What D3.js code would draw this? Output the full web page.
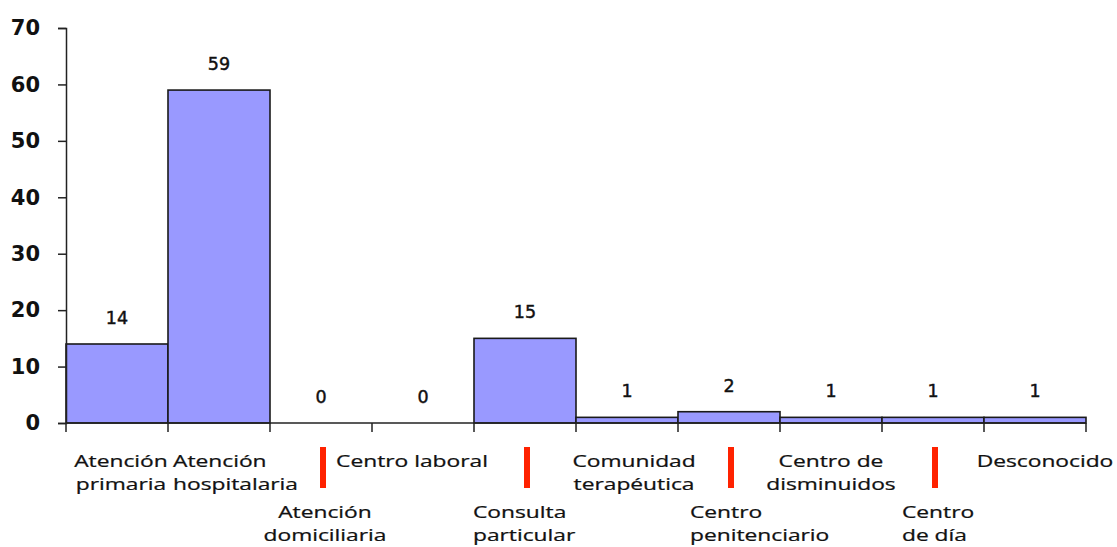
<!DOCTYPE html>
<html>
<head>
<meta charset="utf-8">
<script src="https://cdn.jsdelivr.net/npm/d3@7"></script>
<style>
  html, body { margin: 0; padding: 0; background: #fff; }
  svg { display: block; }
</style>
</head>
<body>
<svg id="chart" width="1117" height="547"></svg>
<script>
// ---- data ----
const categories = [
  "Atención\nprimaria",
  "Atención\nhospitalaria",
  "Atención\ndomiciliaria",
  "Centro laboral",
  "Consulta\nparticular",
  "Comunidad\nterapéutica",
  "Centro\npenitenciario",
  "Centro de\ndisminuidos",
  "Centro\nde día",
  "Desconocido"
];
const values = [14, 59, 0, 0, 15, 1, 2, 1, 1, 1];
const yTicks = [0, 10, 20, 30, 40, 50, 60, 70];

// ---- layout (style, not data) ----
const plotLeft = 66, plotRight = 1086, plotTop = 28, plotBottom = 423;
// label placement per category: row (0 upper, 1 lower), anchor, offset from band centre
const labelLayout = [
  {row: 0, anchor: "middle", dx: 4},
  {row: 0, anchor: "start",  dx: -46},
  {row: 1, anchor: "middle", dx: 4},
  {row: 0, anchor: "middle", dx: -11},
  {row: 1, anchor: "start",  dx: -52},
  {row: 0, anchor: "middle", dx: 7},
  {row: 1, anchor: "start",  dx: -39},
  {row: 0, anchor: "middle", dx: 0},
  {row: 1, anchor: "start",  dx: -31},
  {row: 0, anchor: "middle", dx: 10}
];
const labelStretch = 1.34;

const svg = d3.select("#chart");

const x = d3.scaleBand().domain(categories).range([plotLeft, plotRight]).padding(0);
const y = d3.scaleLinear().domain([0, 70]).range([plotBottom, plotTop]);

// bars
svg.append("g").selectAll("rect")
  .data(values)
  .join("rect")
  .attr("x", (d, i) => x(categories[i]))
  .attr("y", d => y(d))
  .attr("width", x.bandwidth())
  .attr("height", d => y(0) - y(d))
  .attr("fill", "#9999ff")
  .attr("stroke", "#1a1a1a")
  .attr("stroke-width", 1.6);

// y axis
const yAxis = svg.append("g")
  .attr("transform", `translate(${plotLeft},0)`)
  .call(d3.axisLeft(y).tickValues(yTicks).tickSize(8).tickPadding(18).tickFormat(d3.format("d")));
yAxis.select(".domain").attr("stroke", "#222").attr("stroke-width", 1.5);
yAxis.selectAll(".tick line").attr("stroke", "#222").attr("stroke-width", 1.5);
yAxis.selectAll(".tick text")
  .attr("font-family", "DejaVu Sans, Verdana, sans-serif")
  .attr("font-weight", "bold")
  .attr("font-size", 21)
  .attr("fill", "#111");

// x axis line and boundary ticks
const xAxis = svg.append("g");
xAxis.append("line")
  .attr("x1", plotLeft).attr("x2", plotRight)
  .attr("y1", y(0)).attr("y2", y(0))
  .attr("stroke", "#222").attr("stroke-width", 1.5);
const boundaries = categories.map(c => x(c)).concat([x(categories[categories.length - 1]) + x.bandwidth()]);
xAxis.selectAll("line.tk")
  .data(boundaries)
  .join("line")
  .attr("class", "tk")
  .attr("x1", d => d).attr("x2", d => d)
  .attr("y1", y(0)).attr("y2", y(0) + 9)
  .attr("stroke", "#222").attr("stroke-width", 1.5);

// value labels
svg.append("g").selectAll("text")
  .data(values)
  .join("text")
  .attr("x", (d, i) => x(categories[i]) + x.bandwidth() / 2)
  .attr("y", d => y(d) - 20)
  .attr("text-anchor", "middle")
  .attr("font-family", "DejaVu Sans, Verdana, sans-serif")
  .attr("font-size", 17.5)
  .attr("fill", "#111")
  .attr("stroke", "#111")
  .attr("stroke-width", 0.45)
  .text(d => d);

// category labels
const rowBase = [467, 518];
const lineGap = 23;
const lab = svg.append("g").selectAll("text")
  .data(categories)
  .join("text")
  .attr("transform", (c, i) => {
    const L = labelLayout[i];
    const cx = x(c) + x.bandwidth() / 2 + L.dx;
    return `translate(${cx},${rowBase[L.row]}) scale(${labelStretch},1)`;
  })
  .attr("text-anchor", (c, i) => labelLayout[i].anchor)
  .attr("font-family", "Open Sans, Noto Sans, sans-serif")
  .attr("font-size", 17)
  .attr("font-weight", 500)
  .attr("fill", "#111")
  .attr("stroke", "#111")
  .attr("stroke-width", 0.25);
lab.each(function(c) {
  const t = d3.select(this);
  c.split("\n").forEach((line, k) => {
    t.append("tspan").attr("x", 0).attr("y", k * lineGap).text(line);
  });
});

// red separators between upper labels (at the lower-row categories)
svg.append("g").selectAll("rect")
  .data(categories.filter((c, i) => labelLayout[i].row === 1))
  .join("rect")
  .attr("x", c => x(c) + x.bandwidth() / 2 - 1)
  .attr("y", 447)
  .attr("width", 6)
  .attr("height", 41)
  .attr("fill", "#ff2200");
</script>
</body>
</html>
